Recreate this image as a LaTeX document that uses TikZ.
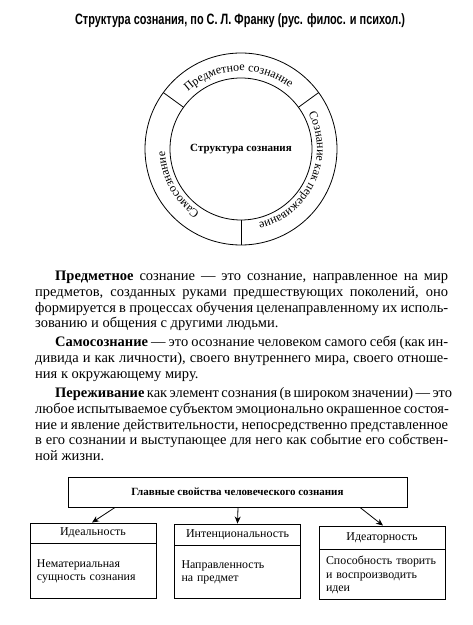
\documentclass[tikz,border=0pt]{standalone}
\usepackage{fontspec}
\usepackage{graphicx}
\setmainfont{Liberation Serif}
\newfontfamily\titlefont{Liberation Sans}
\usetikzlibrary{arrows.meta,decorations.text,calc}
\begin{document}
\begin{tikzpicture}[x=1pt,y=1pt,
  txtline/.style={anchor=base west, inner sep=0pt, font=\fontsize{14.5}{15.6}\selectfont},
  ring/.style={draw, circle, line width=0.8pt, inner sep=0pt, outer sep=0pt},
  hdr/.style={draw, line width=0.9pt, minimum width=126pt, inner sep=0pt, font=\fontsize{12}{14}\selectfont},
  bodyb/.style={draw, line width=0.9pt, text width=112pt, inner xsep=7pt, inner ysep=0pt, align=left, font=\fontsize{11.9}{13.4}\selectfont, anchor=north},
  arr/.style={line width=0.8pt, -{Stealth[length=7pt,width=6pt]}}]
\useasboundingbox (0,0) rectangle (473,625);
\fill[white] (0,0) rectangle (473,625);

% title
\node[inner sep=0pt, anchor=base] (title) at (240,600)
  {\resizebox{330pt}{\height}{\titlefont\bfseries\fontsize{15}{17}\selectfont Структура сознания, по С.~Л.~Франку (рус. филос. и психол.)}};

% circle
\coordinate (c) at (241,476);
\node[ring, minimum size=192pt] (outer) at (c) {};
\node[ring, minimum size=142pt, font=\bfseries\fontsize{11}{13}\selectfont] (inner) at (c) {Структура сознания};
\draw[line width=0.8pt] (outer.144) -- (inner.144);
\draw[line width=0.8pt] (outer.36) -- (inner.36);
\draw[line width=0.8pt] (outer.270) -- (inner.270);

\path[decorate, decoration={text along path, text align=center,
  text={|\fontsize{12}{14}\selectfont|Предметное сознание}}]
  ($(c)+(146:78)$) arc[start angle=146, end angle=38, radius=78];
\path[decorate, decoration={text along path, text align=center,
  text={|\fontsize{12}{14}\selectfont|Сознание как переживание}}]
  ($(c)+(34:76)$) arc[start angle=34, end angle=-83, radius=76];
\path[decorate, decoration={text along path, text align=center,
  text={|\fontsize{12}{14}\selectfont|Самосознание}}]
  ($(c)+(262:76)$) arc[start angle=262, end angle=157, radius=76];

% paragraphs
\node[txtline] (p1a) at (55,344) {\makebox[393pt][s]{\textbf{Предметное} сознание — это сознание, направленное на мир}};
\node[txtline] (p1b) at (35,328.4) {\makebox[413pt][s]{предметов, созданных руками предшествующих поколений, оно}};
\node[txtline] (p1c) at (35,312.8) {\makebox[413pt][s]{формируется в процессах обучения целенаправленному их исполь-}};
\node[txtline] (p1d) at (35,297.2) {зованию и общения с другими людьми.};

\node[txtline] (p2a) at (55,278) {\makebox[393pt][s]{\textbf{Самосознание} — это осознание человеком самого себя (как ин-}};
\node[txtline] (p2b) at (35,262.4) {\makebox[413pt][s]{дивида и как личности), своего внутреннего мира, своего отноше-}};
\node[txtline] (p2c) at (35,246.8) {ния к окружающему миру.};

\node[txtline] (p3a) at (55,227) {\makebox[393pt][s]{\textbf{Переживание} как элемент сознания (в широком значении) — это}};
\node[txtline] (p3b) at (35,211.4) {\makebox[413pt][s]{любое испытываемое субъектом эмоционально окрашенное состоя-}};
\node[txtline] (p3c) at (35,195.8) {\makebox[413pt][s]{ние и явление действительности, непосредственно представленное}};
\node[txtline] (p3d) at (35,180.2) {\makebox[413pt][s]{в его сознании и выступающее для него как событие его собствен-}};
\node[txtline] (p3e) at (35,164.6) {ной жизни.};

% bottom diagram
\node[draw, line width=0.9pt, minimum width=339pt, minimum height=30pt, inner sep=0pt,
  font=\bfseries\fontsize{11}{13}\selectfont] (top) at (237.5,133) {Главные свойства человеческого сознания};

\node[hdr, minimum height=20pt] (h1) at (93,92) {Идеальность};
\node[hdr, minimum height=21pt] (h2) at (237.5,90.5) {Интенциональность};
\node[hdr, minimum height=23pt] (h3) at (382,87.5) {Идеаторность};

\node[bodyb, minimum height=55pt] (b1) at (h1.south) {Нематериальная\\сущность сознания};
\node[bodyb, minimum height=53pt] (b2) at (h2.south) {Направленность\\на предмет};
\node[bodyb, minimum height=50pt] (b3) at (h3.south) {Способность творить\\и воспроизводить\\идеи};

\draw[arr] ([xshift=-122.5pt]top.south) -- ([xshift=-1pt]h1.north);
\draw[arr] ([xshift=0.5pt]top.south) -- (h2.north);
\draw[arr] ([xshift=122.5pt]top.south) -- ([xshift=1pt]h3.north);
\end{tikzpicture}
\end{document}
